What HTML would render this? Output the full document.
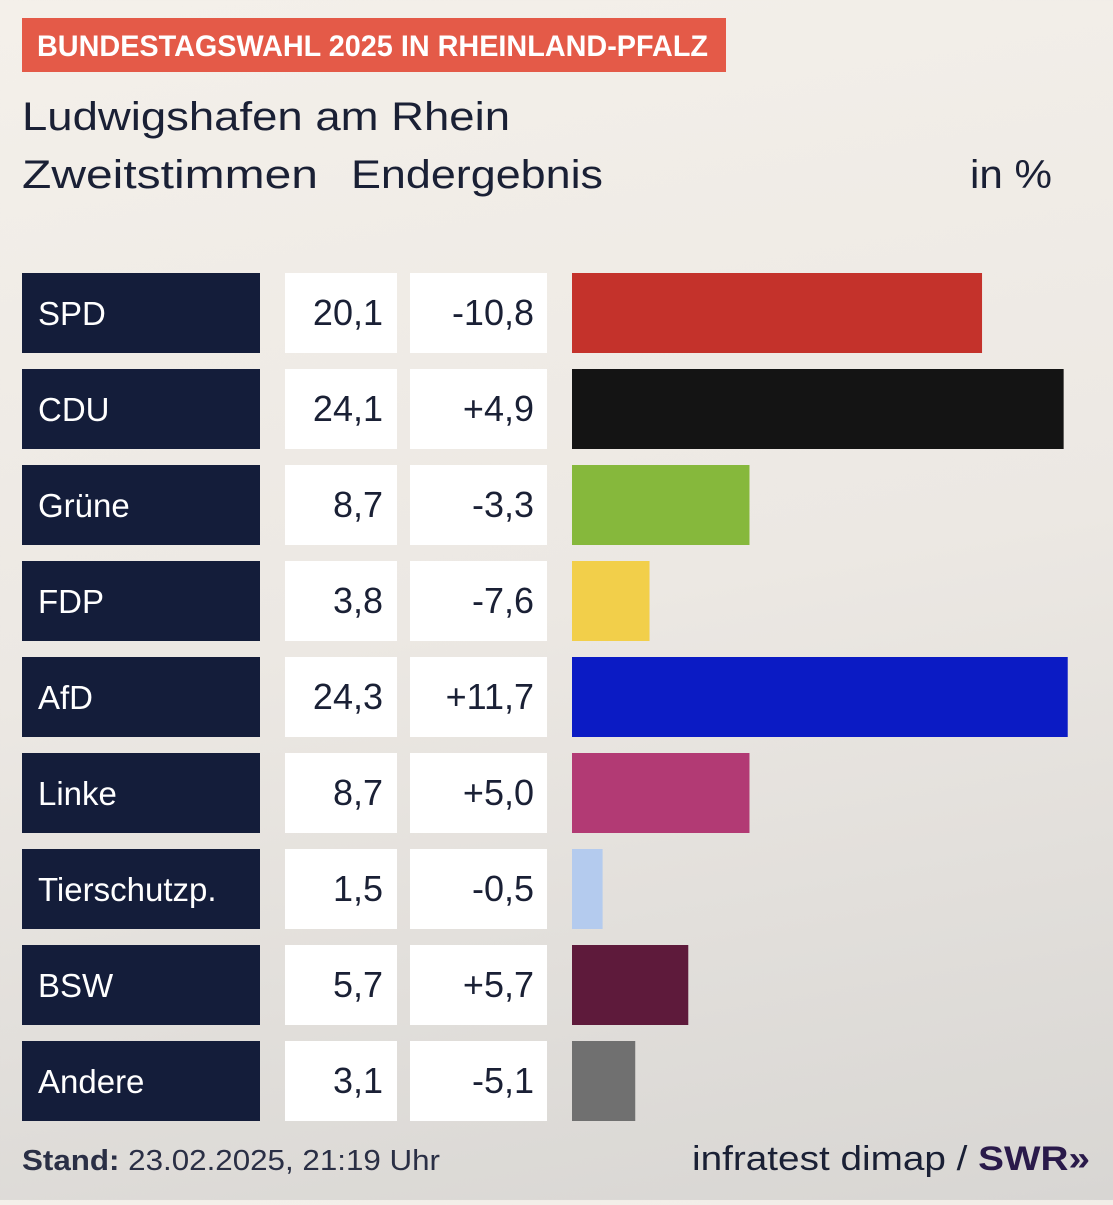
<!DOCTYPE html>
<html><head><meta charset="utf-8"><style>
html,body{margin:0;padding:0;}
body{width:1113px;height:1200px;overflow:hidden;background:linear-gradient(170deg,#f4f0ea 0%,#ece8e3 50%,#d8d6d3 100%);font-family:"Liberation Sans",sans-serif;}
svg text{font-family:"Liberation Sans",sans-serif;}
</style></head><body>
<svg id="chart" width="1113" height="1200" xmlns="http://www.w3.org/2000/svg">
<rect x="22" y="18" width="704" height="54" fill="#e45a48"/>
<text x="37" y="56" font-size="30" font-weight="bold" fill="#fff" textLength="671" lengthAdjust="spacingAndGlyphs">BUNDESTAGSWAHL 2025 IN RHEINLAND-PFALZ</text>
<text x="22" y="130" font-size="40" fill="#1a2035" textLength="488" lengthAdjust="spacingAndGlyphs">Ludwigshafen am Rhein</text>
<text x="22" y="188" font-size="40" fill="#1a2035" textLength="296" lengthAdjust="spacingAndGlyphs">Zweitstimmen</text>
<text x="351" y="188" font-size="40" fill="#1a2035" textLength="252" lengthAdjust="spacingAndGlyphs">Endergebnis</text>
<text x="970" y="188" font-size="40" fill="#1a2035" textLength="82" lengthAdjust="spacingAndGlyphs">in %</text>
<g id="rows"></g>
<text x="22" y="1170" font-size="29" fill="#2a2f45" textLength="418" lengthAdjust="spacingAndGlyphs"><tspan font-weight="bold">Stand:</tspan> 23.02.2025, 21:19 Uhr</text>
<text x="692" y="1170" font-size="34" fill="#1a2035" textLength="398" lengthAdjust="spacingAndGlyphs">infratest dimap / <tspan font-weight="bold" fill="#2a1a4a">SWR»</tspan></text>
</svg>
<script>
const parties=["SPD","CDU","Grüne","FDP","AfD","Linke","Tierschutzp.","BSW","Andere"];
const shares=[20.1,24.1,8.7,3.8,24.3,8.7,1.5,5.7,3.1];
const diffs=[-10.8,4.9,-3.3,-7.6,11.7,5.0,-0.5,5.7,-5.1];
const colors=["#c4322b","#141414","#86b83c","#f2cf4a","#0b1bc4","#b23a74","#b4cbee","#5e1a3b","#707070"];
const NS="http://www.w3.org/2000/svg";
const g=document.getElementById("rows");
const x0=572,pxPer=20.4,top0=273,pitch=96,h=80;
function xScale(v){return v*pxPer;}
function yRow(i){return top0+i*pitch;}
function fmt(v,sign){let s=Math.abs(v).toFixed(1).replace(".",",");if(sign)s=(v>0?"+":v<0?"-":"")+s;else if(v<0)s="-"+s;return s;}
function mk(tag,attrs){const e=document.createElementNS(NS,tag);for(const k in attrs)e.setAttribute(k,attrs[k]);g.appendChild(e);return e;}
parties.forEach((p,i)=>{
  const y=yRow(i);
  const lb=mk("rect",{x:22,y:y,width:238,height:h,fill:"#141d3a"});
  
  
  const lt=mk("text",{x:38,y:y+52,"font-size":33,fill:"#fff"});
  lt.textContent=p;
  
  
  const vb=mk("rect",{x:285,y:y,width:112,height:h,fill:"#fff"});
  
  
  const vt=mk("text",{x:383,y:y+52,"font-size":36,fill:"#1a2035","text-anchor":"end"});
  vt.textContent=fmt(shares[i],false);
  
  
  const db=mk("rect",{x:410,y:y,width:137,height:h,fill:"#fff"});
  
  
  const dt=mk("text",{x:534,y:y+52,"font-size":36,fill:"#1a2035","text-anchor":"end"});
  dt.textContent=fmt(diffs[i],true);
  
  
  const b=mk("rect",{x:x0,y:y,width:xScale(shares[i]),height:h,fill:colors[i]});
  
  
});
</script>
</body></html>
